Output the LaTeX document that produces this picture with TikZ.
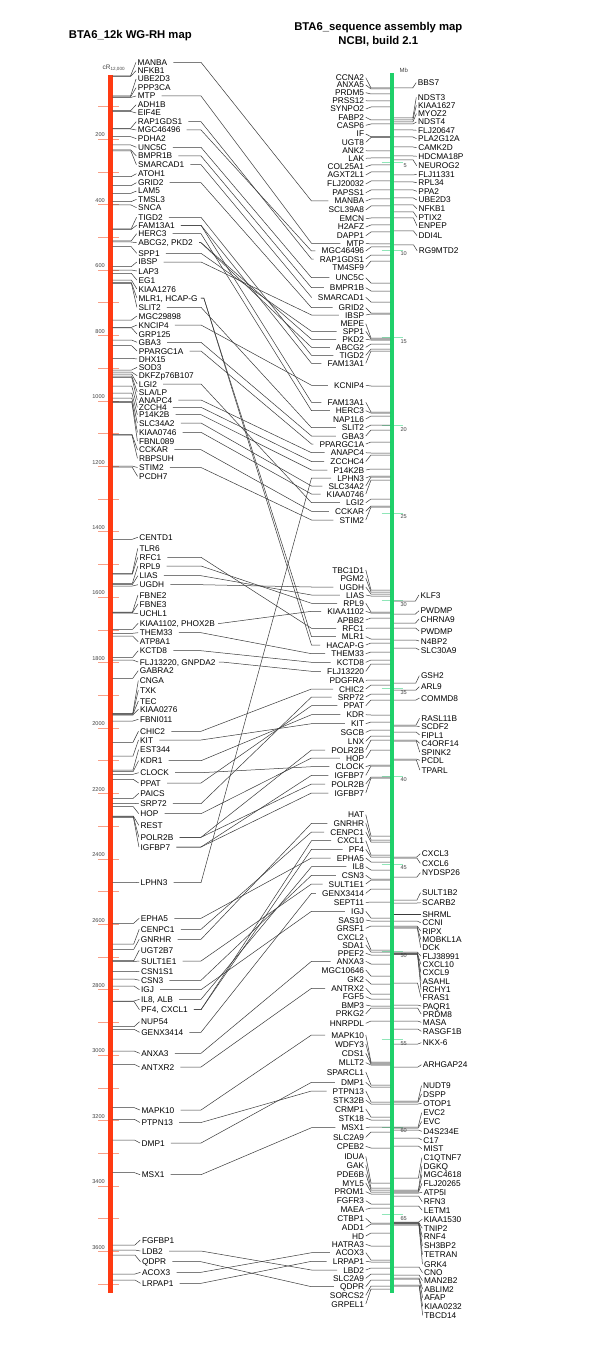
\documentclass[tikz,border=0pt]{standalone}
\usepackage{fontspec}
\setmainfont{Liberation Sans}
\definecolor{redbar}{HTML}{FF3A12}
\definecolor{greenbar}{HTML}{1FD06A}
\definecolor{redtick}{HTML}{F7A088}
\definecolor{greentick}{HTML}{8FE6B8}
\definecolor{lnc}{HTML}{3A3A3A}
\definecolor{sclc}{HTML}{444444}
\begin{document}
\begin{tikzpicture}[x=1pt,y=-1pt,
  lab/.style={inner sep=0pt, font=\fontsize{8.3}{9}\selectfont, text height=6pt, text depth=0pt, text=black},
  ttl/.style={inner sep=0pt, font=\bfseries\fontsize{11.3}{13}\selectfont},
  scl/.style={inner sep=0pt, font=\fontsize{5.6}{6}\selectfont, text=sclc},
  conn/.style={lnc, line width=0.5pt}]
\useasboundingbox (0,0) rectangle (600,1364);
\fill[white] (0,0) rectangle (600,1364);

% titles
\node[ttl] (t1) at (130.3,36) {BTA6\_12k WG-RH map};
\node[ttl] (t2) at (378.3,27.3) {BTA6\_sequence assembly map};
\node[ttl] (t3) at (378.3,41.7) {NCBI, build 2.1};

% left scale
\foreach \cc in {100,200,...,3700} {
  \pgfmathsetmacro\ty{73.9+0.3271*\cc}
  \draw[redtick, line width=0.8pt] (98.3,\ty) -- (119.3,\ty);
}
\foreach \cc in {200,400,...,3600} {
  \pgfmathsetmacro\ty{73.9+0.3271*\cc-4.3}
  \node[scl, anchor=east] (sL\cc) at (105,\ty) {\cc};
}
\node[scl, anchor=west, font=\fontsize{6.5}{7}\selectfont] (cr) at (102.5,67.7) {cR\textsubscript{12,000}};
\fill[redbar] (108.3,75) rectangle (112.7,1293);

% right scale
\foreach \v in {5,10,...,65} {
  \pgfmathsetmacro\ty{74.6+17.54*\v}
  \draw[greentick, line width=0.8pt] (381.7,\ty) -- (403.3,\ty);
  \node[scl, anchor=east] (sR\v) at (407,{\ty+3.8}) {\v};
}
\node[scl, font=\fontsize{6}{7}\selectfont] (mb) at (403.8,70) {Mb};
\fill[greenbar] (390,73.3) rectangle (394,1292.7);

% left map labels
\foreach \nm/\tx/\y/\m in {
lMANBA/MANBA/62.3/76, lNFKB/NFKB1/70.7/76.5, lUBE/UBE2D3/79/96, lPPP/PPP3CA/87.7/96.8,
lMTP/MTP/96/97.5, lADH/ADH1B/104.7/110.7, lEIF/EIF4E/113/111.5, lRAP/RAP1GDS1/121.7/128.3,
lMGC46/MGC46496/130/129, lPDHA/PDHA2/138.7/136.7, lUNC/UNC5C/147.3/145, lBMPR/BMPR1B/156/150,
lSMAR/SMARCAD1/164.7/151, lATOH/ATOH1/173.7/176.7, lGRID/GRID2/182.7/185.7, lLAM/LAM5/191/193.3,
lTMSL/TMSL3/199.3/201.7, lSNCA/SNCA/207.7/205, lTIGD/TIGD2/217.3/229, lFAM/FAM13A1/225.3/229.5,
lHERC/HERC3/233.7/241, lABCG/{ABCG2, PKD2}/242.7/242, lSPP/SPP1/253.3/246.7, lIBSP/IBSP/262/266.7,
lLAP/LAP3/271/270, lEG/EG1/280/273.3, lKIAA1276/KIAA1276/289/280, lMLR/{MLR1, HCAP-G}/298/282.7,
lSLIT/SLIT2/307.3/283.3, lMGC29/MGC29898/316/320, lKNCIP/KNCIP4/325/327.3, lGRP/GRP125/334/327.8,
lGBA/GBA3/342.3/340, lPPAR/PPARGC1A/351/345.7, lDHX/DHX15/359/358.3, lSOD/SOD3/367.3/370,
lDKFZ/DKFZp76B107/375.7/372, lLGI/LGI2/384/374, lSLA/{SLA/LP}/392/376, lANAPC/ANAPC4/400/377.5,
lZCCH/ZCCH4/407.3/386, lP14/P14K2B/414.7/393, lSLC34/SLC34A2/423/398, lKIAA0746/KIAA0746/432.3/401.7,
lFBNL/FBNL089/441/402.5, lCCKAR/CCKAR/449.7/434.3, lRBP/RBPSUH/458.3/435, lSTIM/STIM2/467.5/466,
lPCDH/PCDH7/476.3/467, lCENTD/CENTD1/537.3/539.3, lTLR/TLR6/548.3/573.3, lRFC/RFC1/557.3/574,
lRPL/RPL9/566/583.3, lLIAS/LIAS/575.7/584.5, lUGDH/UGDH/584.7/586, lFBNEa/FBNE2/595/612,
lFBNEb/FBNE3/604/612.5, lUCHL/UCHL1/613.7/613, lKIAA1102/{KIAA1102, PHOX2B}/623.3/629.3,
lTHEM/THEM33/632.7/633.3, lATP8/ATP8A1/641.7/636, lKCTD/KCTD8/650.7/657.3,
lFLJ13/{FLJ13220, GNPDA2}/662/660, lGABRA/GABRA2/670.7/678.3, lCNGA/CNGA/680.7/713.3,
lTXK/TXK/690.3/713.8, lTEC/TEC/701/714.3, lKIAA0276/KIAA0276/709.3/715, lFBNI/FBNI011/719.3/721,
lCHIC/CHIC2/731.3/742.3, lKIT/KIT/740/756, lEST/EST344/749.7/770, lKDR/KDR1/760.7/771.7,
lCLOCK/CLOCK/772.7/774.3, lPPAT/PPAT/783/779.3, lPAICS/PAICS/793.3/798.3, lSRP/SRP72/803.7/803.3,
lHOP/HOP/813.7/806.7, lREST/REST/825.3/816, lPOLR/POLR2B/837.3/816.7, lIGFBP/IGFBP7/847/817.3,
lLPHN/LPHN3/882.7/882.3, lEPHA/EPHA5/918.3/923.3, lCENPC/CENPC1/929.3/944, lGNRHR/GNRHR/939.3/949.3,
lUGT2/UGT2B7/950/960.7, lSULT/SULT1E1/961/961.5, lCSN1/CSN1S1/971.3/971.7, lCSN3/CSN3/980.3/979,
lIGJ/IGJ/989.7/986, lIL8/{IL8, ALB}/999.3/1001, lPF4/{PF4, CXCL1}/1009.7/1001.5,
lNUP/NUP54/1021.7/1026.7, lGENX/GENX3414/1032.3/1029.3, lANXA/ANXA3/1053.3/1051,
lANTXR/ANTXR2/1067/1064.3, lMAPK/MAPK10/1110/1107.7, lPTPN/PTPN13/1122.5/1119.3,
lDMP/DMP1/1143/1140, lMSX/MSX1/1174.7/1172.7, lFGFBP/FGFBP1/1240/1245, lLDB/LDB2/1251/1250,
lQDPR/QDPR/1261.7/1255, lACOX/ACOX3/1272.3/1274, lLRPAP/LRPAP1/1283.3/1280} {
  \pgfmathsetmacro\lx{137.5+4.5*(\y-60)/1220}
  \node[lab, anchor=west] (\nm) at (\lx,\y) {\tx};
  \coordinate (m\nm) at (112.7,\m);
  \draw[conn] (m\nm) -- ({\lx-7},\m) -- ([xshift=-1.5pt]\nm.west);
}

% sequence map labels, left side
\foreach \nm/\tx/\y/\m in {
rCCNA/CCNA2/77.7/88, rANXA5/ANXA5/85/89, rPRDM5/PRDM5/92.7/94, rPRSS/PRSS12/100.7/101,
rSYN/SYNPO2/109/107, rFABP/FABP2/117.3/120, rCASP/CASP6/125.3/124, rIF/IF/134/136.7,
rUGT8/UGT8/142.3/137.5, rANK/ANK2/150.7/151, rLAK/LAK/158.3/158, rCOL/COL25A1/166.7/165,
rAGXT/AGXT2L1/175/172, rFLJ20032/FLJ20032/184/181, rPAPSS/PAPSS1/192.7/190, rMANBA/MANBA/201/199,
rSCL/SCL39A8/210/206, rEMCN/EMCN/218.7/218, rH2A/H2AFZ/227/225, rDAPP/DAPP1/235.7/232,
rMTP/MTP/243.3/244, rMGC46/MGC46496/251/247, rRAP/RAP1GDS1/259/255, rTM4/TM4SF9/267.3/261,
rUNC/UNC5C/277.7/283, rBMPR/BMPR1B/287.7/291, rSMAR/SMARCAD1/297.3/302, rGRID/GRID2/307.7/313,
rIBSP/IBSP/315/314, rMEPE/MEPE/323.7/338, rSPP/SPP1/331.3/339, rPKD/PKD2/339.3/340,
rABCG/ABCG2/347.3/344, rTIGD/TIGD2/355.3/349, rFAMa/FAM13A1/363.3/351, rKCNIP/KCNIP4/385.3/386,
rFAMb/FAM13A1/402.3/412, rHERC/HERC3/410.7/413, rNAP/NAP1L6/419/416, rSLIT/SLIT2/427.7/425,
rGBA/GBA3/436/430, rPPAR/PPARGC1A/444/442, rANAPC/ANAPC4/452.7/453, rZCCH/ZCCHC4/461.5/455,
rP14/P14K2B/470/469, rLPHN/LPHN3/478/476, rSLC34/SLC34A2/486/477, rKIAA0746/KIAA0746/494/480,
rLGI/LGI2/502.7/499, rCCKAR/CCKAR/511.3/506, rSTIM/STIM2/520/507, rTBC/TBC1D1/570/590,
rPGM/PGM2/578.3/592, rUGDH/UGDH/587/594, rLIAS/LIAS/595/596, rRPL/RPL9/603.3/612,
rKIAA1102/KIAA1102/611.3/613, rAPBB/APBB2/620/618, rRFC/RFC1/628.3/628, rMLR/MLR1/636.7/639,
rHACAP/HACAP-G/645/643, rTHEM/THEM33/653.7/652, rKCTD/KCTD8/662.3/660, rFLJ13/FLJ13220/671.3/664,
rPDGF/PDGFRA/680.3/680, rCHIC/CHIC2/689/685, rSRP/SRP72/697/694, rPPAT/PPAT/705.7/700,
rKDR/KDR/714.7/715, rKIT/KIT/723.7/722, rSGCB/SGCB/732.3/730, rLNX/LNX/741.3/736,
rPOLRa/POLR2B/750/740, rHOP/HOP/758/750, rCLOCK/CLOCK/766.7/765, rIGFBPa/IGFBP7/775.3/766,
rPOLRb/POLR2B/784/777, rIGFBPb/IGFBP7/793/778, rHAT/HAT/814.7/836, rGNRHR/GNRHR/823.3/840,
rCENPC/CENPC1/832/842, rCXCL1/CXCL1/840.7/855, rPF4/PF4/849.3/857, rEPHA/EPHA5/858/862,
rIL8/IL8/866.7/870, rCSN3/CSN3/875.3/879, rSULT/SULT1E1/884/880, rGENX/GENX3414/893.3/889,
rSEPT/SEPT11/902.5/902, rIGJ/IGJ/911.3/918, rSAS/SAS10/920/921, rGRSF/GRSF1/928.3/926,
rCXCL2/CXCL2/937/950, rSDA/SDA1/945/952, rPPEF/PPEF2/953.3/955, rANXA/ANXA3/961.3/964,
rMGC10/MGC10646/970/976, rGK/GK2/979.3/984, rANTXR/ANTRX2/988.3/994, rFGF/FGF5/996.7/999,
rBMP/BMP3/1005/1006, rPRKG/PRKG2/1013.7/1008, rHNRPDL/HNRPDL/1023.3/1021, rMAPK/MAPK10/1035/1062,
rWDFY/WDFY3/1044/1063, rCDS/CDS1/1053.3/1064, rMLLT/MLLT2/1062.7/1065, rSPARC/SPARCL1/1072/1085,
rDMP/DMP1/1082.3/1087, rPTPN/PTPN13/1091/1102, rSTK32/STK32B/1100/1104, rCRMP/CRMP1/1109/1117,
rSTK18/STK18/1118/1120, rMSX/MSX1/1127.7/1127, rSLC2a/SLC2A9/1137.3/1132, rCPEB/CPEB2/1146.3/1148,
rIDUA/IDUA/1156.3/1183, rGAK/GAK/1165.3/1188, rPDE/PDE6B/1174/1190, rMYL/MYL5/1183/1192,
rPROM/PROM1/1191.7/1194, rFGFR/FGFR3/1200.7/1204, rMAEA/MAEA/1209.3/1208, rCTBP/CTBP1/1218.3/1223,
rADD/ADD1/1227.3/1224, rHD/HD/1236/1233, rHATRA/HATRA3/1244.3/1246, rACOX/ACOX3/1252.7/1260,
rLRPAP/LRPAP1/1261.3/1262, rLBD/LBD2/1270/1268, rSLC2b/SLC2A9/1278.3/1274, rQDPR/QDPR/1286.7/1280,
rSORCS/SORCS2/1295.3/1286, rGRPEL/GRPEL1/1304/1289} {
  \node[lab, anchor=east] (\nm) at (364.3,\y) {\tx};
  \coordinate (m\nm) at (390,\m);
  \draw[conn] ([xshift=1.5pt]\nm.east) -- (371,\m) -- (m\nm);
}

% sequence map labels, right side
\foreach \nm/\tx/\y/\m in {
qBBS/BBS7/82.7/88, qNDST3/NDST3/97.3/118, qKIAA1627/KIAA1627/105.3/120, qMYOZ/MYOZ2/113.7/122,
qNDST4/NDST4/122/124, qFLJ20647/FLJ20647/130.3/130, qPLA/PLA2G12A/138.7/137, qCAMK/CAMK2D/147.7/147,
qHDC/HDCMA18P/156.3/156, qNEUROG/NEUROG2/165.7/160, qFLJ11331/FLJ11331/174.3/175, qRPL34/RPL34/182.7/182,
qPPA/PPA2/191.3/190, qUBE/UBE2D3/200/198, qNFKB/NFKB1/208.7/205, qPTIX/PTIX2/217.3/212,
qENPEP/ENPEP/225.7/218, qDDI/DDI4L/235.7/231, qRG9/RG9MTD2/250.7/245, qKLF/KLF3/595/601,
qPWDa/PWDMP/610.7/614, qCHRNA/CHRNA9/619/623, qPWDb/PWDMP/631/628, qN4BP/N4BP2/641/640,
qSLC30/SLC30A9/650/648, qGSH/GSH2/675.7/683, qARL/ARL9/686.7/690, qCOMMD/COMMD8/698/700,
qRASL/RASL11B/718.3/725, qSCDF/SCDF2/726.7/726, qFIPL/FIPL1/735/732, qC4OR/C4ORF14/743.3/740,
qSPINK/SPINK2/752/741, qPCDL/PCDL/760.3/759, qTPARL/TPARL/770/760, qCXCL3/CXCL3/853.7/857,
qCXCL6/CXCL6/863.3/858, qNYD/NYDSP26/872.7/877, qSULT1B/SULT1B2/892.7/900, qSCARB/SCARB2/902.7/903,
qSHRML/SHRML/914/914, qCCNI/CCNI/922.7/921, qRIPX/RIPX/931/926, qMOBK/MOBKL1A/939.3/927,
qDCK/DCK/947.7/928, qFLJ38/FLJ38991/956/952, qCXCL10/CXCL10/964.3/953, qCXCL9/CXCL9/972.7/953.5,
qASAHL/ASAHL/981/954, qRCHY/RCHY1/989.3/954.5, qFRAS/FRAS1/997.3/983, qPAQR/PAQR1/1006/1005,
qPRDM8/PRDM8/1014/1008, qMASA/MASA/1022.3/1021, qRASGF/RASGF1B/1031.3/1029, qNKX/NKX-6/1042.7/1044,
qARHG/ARHGAP24/1064.7/1067, qNUDT/NUDT9/1085.7/1101, qDSPP/DSPP/1094/1102, qOTOP/OTOP1/1103.3/1104,
qEVC2/EVC2/1112.7/1127, qEVC/EVC/1121.5/1128, qD4S/D4S234E/1131.3/1130, qC17/C17/1140/1138,
qMIST/MIST/1148.7/1146, qC1Q/C1QTNF7/1157.7/1178, qDGKQ/DGKQ/1166/1190, qMGC4618/MGC4618/1174.7/1191,
qFLJ20265/FLJ20265/1183.3/1192, qATP5/ATP5I/1192.3/1193, qRFN/RFN3/1201.7/1196, qLETM/LETM1/1210.3/1206,
qKIAA1530/KIAA1530/1219.3/1222, qTNIP/TNIP2/1228.3/1222.5, qRNF4/RNF4/1236.7/1223, qSH3/SH3BP2/1245.7/1223.5,
qTETRAN/TETRAN/1254.7/1224, qGRK/GRK4/1264/1225, qCNO/CNO/1272.7/1267, qMAN2/MAN2B2/1280.7/1275,
qABLIM/ABLIM2/1289/1278, qAFAP/AFAP/1297.7/1279, qKIAA0232/KIAA0232/1306.3/1285, qTBCD/TBCD14/1315.3/1286} {
  \pgfmathsetmacro\rx{417.7+6.5*(\y-80)/1235}
  \node[lab, anchor=west] (\nm) at (\rx,\y) {\tx};
  \coordinate (m\nm) at (394,\m);
  \draw[conn] (m\nm) -- ({\rx-5},\m) -- ([xshift=-1.5pt]\nm.west);
}

% comparative connectors
\coordinate (xL) at (201,0);
\coordinate (xR) at (311.5,0);
\foreach \a/\b in {lMANBA/rMANBA, lMTP/rMTP, lRAP/rRAP, lMGC46/rMGC46, lUNC/rUNC, lBMPR/rBMPR,
  lSMAR/rSMAR, lGRID/rGRID, lTIGD/rTIGD, lFAM/rFAMa, lFAM/rFAMb, lHERC/rHERC, lABCG/rABCG, lABCG/rPKD,
  lSPP/rSPP, lIBSP/rIBSP, lSLIT/rSLIT, lKNCIP/rKCNIP, lGBA/rGBA, lPPAR/rPPAR, lLGI/rLGI,
  lANAPC/rANAPC, lZCCH/rZCCH, lP14/rP14, lSLC34/rSLC34, lKIAA0746/rKIAA0746, lCCKAR/rCCKAR,
  lSTIM/rSTIM, lRFC/rRFC, lRPL/rRPL, lLIAS/rLIAS, lUGDH/rUGDH, lTHEM/rTHEM, lKCTD/rKCTD,
  lCHIC/rCHIC, lKIT/rKIT, lKDR/rKDR, lCLOCK/rCLOCK, lPPAT/rPPAT, lSRP/rSRP, lHOP/rHOP,
  lPOLR/rPOLRa, lPOLR/rPOLRb, lIGFBP/rIGFBPa, lIGFBP/rIGFBPb, lLPHN/rLPHN, lEPHA/rEPHA,
  lCENPC/rCENPC, lGNRHR/rGNRHR, lSULT/rSULT, lCSN3/rCSN3, lIGJ/rIGJ, lIL8/rIL8, lPF4/rPF4,
  lPF4/rCXCL1, lGENX/rGENX, lANXA/rANXA, lANTXR/rANTXR, lMAPK/rMAPK, lPTPN/rPTPN, lDMP/rDMP,
  lMSX/rMSX, lLDB/rLBD, lQDPR/rQDPR, lACOX/rACOX, lLRPAP/rLRPAP} {
  \draw[conn] ([xshift=6pt]\a.east) -- (xL |- \a.east) -- (xR |- \b.west) -- ([xshift=-6pt]\b.west);
}
\foreach \a/\b in {lKIAA1102/rKIAA1102, lFLJ13/rFLJ13, lMLR/rMLR, lMLR/rHACAP} {
  \draw[conn] ([xshift=3pt]\a.east) -- ([xshift=6pt]\a.east) -- (xR |- \b.west) -- ([xshift=-6pt]\b.west);
}
\end{tikzpicture}
\end{document}
